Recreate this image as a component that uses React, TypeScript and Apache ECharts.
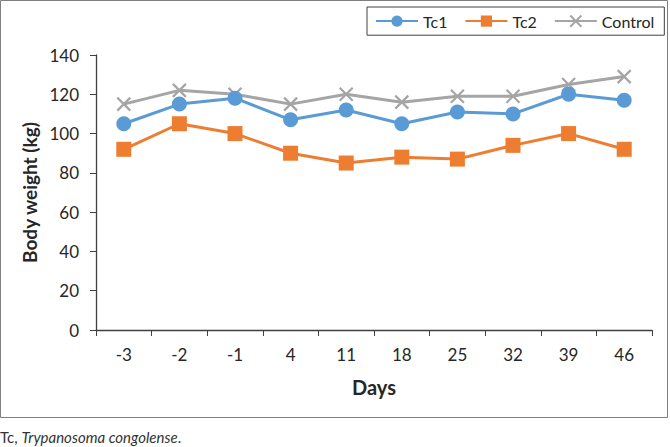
import React, { useEffect, useRef } from "react";
import * as echarts from "echarts";

const days = ["-3", "-2", "-1", "4", "11", "18", "25", "32", "39", "46"];
const tc1 = [105, 115, 118, 107, 112, 105, 111, 110, 120, 117];
const tc2 = [92, 105, 100, 90, 85, 88, 87, 94, 100, 92];
const control = [115, 122, 120, 115, 120, 116, 119, 119, 125, 129];

const FONT = "Lato, 'Open Sans', sans-serif";

export default function App() {
  const ref = useRef<HTMLDivElement>(null);
  useEffect(() => {
    document.body.style.margin = "0";
    const chart = echarts.init(ref.current!, undefined, { renderer: "svg" });
    const lineSeries = (name: string, data: number[], color: string, symbol: string, size: number) => ({
      name,
      type: "line",
      data,
      symbol,
      symbolSize: size,
      lineStyle: { color, width: 3 },
      itemStyle: { color, borderWidth: 0 },
      z: 3,
    });
    chart.setOption({
      animation: false,
      textStyle: { fontFamily: FONT },
      grid: { left: 96, top: 55, right: 18, bottom: 117 },
      legend: {
        left: 367,
        top: 7,
        padding: [6, 10, 6, 8],
        borderColor: "#404040",
        borderWidth: 1,
        itemGap: 17,
        itemWidth: 42,
        itemHeight: 14,
        textStyle: { fontSize: 16, color: "#262626", fontFamily: FONT },
        data: ["Tc1", "Tc2", "Control"],
      },
      xAxis: {
        type: "category",
        data: days,
        boundaryGap: true,
        axisLine: { lineStyle: { color: "#404040", width: 1.3 } },
        axisTick: { show: true, length: 6, inside: false, lineStyle: { color: "#404040" } },
        axisLabel: { fontSize: 17, color: "#262626", margin: 16, fontFamily: FONT },
        name: "Days",
        nameLocation: "middle",
        nameGap: 47,
        nameTextStyle: { fontSize: 20, fontWeight: "bold", color: "#262626", fontFamily: FONT },
      },
      yAxis: {
        type: "value",
        min: 0,
        max: 140,
        interval: 20,
        splitLine: { show: false },
        axisLine: { show: true, lineStyle: { color: "#404040", width: 1.3 } },
        axisTick: { show: true, length: 6, inside: false, lineStyle: { color: "#404040" } },
        axisLabel: { fontSize: 17, color: "#262626", margin: 17, fontFamily: FONT },
        name: "Body weight (kg)",
        nameLocation: "middle",
        nameGap: 55,
        nameRotate: 90,
        nameTextStyle: { fontSize: 19, fontWeight: "bold", color: "#262626", fontFamily: FONT },
      },
      series: [
        lineSeries("Tc1", tc1, "#5B9BD5", "circle", 15),
        lineSeries("Tc2", tc2, "#ED7D31", "rect", 15),
        {
          name: "Control",
          type: "line",
          data: control,
          symbol: "path://M0,0L10,10M10,0L0,10",
          symbolSize: 13,
          lineStyle: { color: "#A5A5A5", width: 3 },
          itemStyle: { color: "none", borderColor: "#A5A5A5", borderWidth: 2.2 },
          z: 2,
        },
      ],
      graphic: [
        {
          type: "rect",
          shape: { x: 0.5, y: 0.5, width: 667, height: 417 },
          style: { fill: "none", stroke: "#7f7f7f", lineWidth: 1 },
          silent: true,
        },
        {
          type: "text",
          left: 0,
          top: 429,
          style: {
            text: "{n|Tc, }{i|Trypanosoma congolense}{n|.}",
            rich: {
              n: { fontSize: 15, fill: "#333", fontFamily: FONT },
              i: { fontSize: 15, fill: "#333", fontStyle: "italic", fontFamily: FONT },
            },
          },
        },
      ],
    });
    return () => chart.dispose();
  }, []);
  return <div ref={ref} style={{ width: 670, height: 447 }} />;
}
